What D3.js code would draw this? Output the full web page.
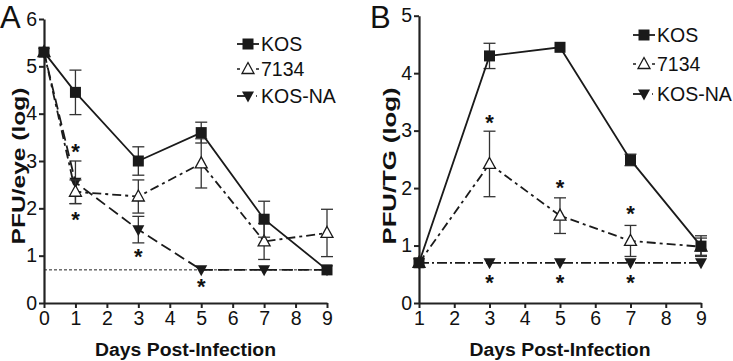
<!DOCTYPE html>
<html>
<head>
<meta charset="utf-8">
<title>PFU by day</title>
<script src="https://d3js.org/d3.v7.min.js"></script>
<style>
  body { margin: 0; background: #fff; }
  text { font-family: "Liberation Sans", Arial, sans-serif; fill: #111; }
</style>
</head>
<body>
<div id="chart"></div>
<script>
// ---- data ----
var seriesNames = ["KOS", "7134", "KOS-NA"];

// panel A: eye
var daysA = [0, 1, 3, 5, 7, 9];
var kosA = [5.3, 4.45, 3.0, 3.6, 1.77, 0.7];
var kosAErr = [0, 0.47, 0.3, 0.22, 0.38, 0];
var mutA = [5.3, 2.35, 2.25, 2.95, 1.3, 1.48];
var mutAErr = [0, 0.25, 0.35, 0.52, 0.38, 0.5];
var naA = [5.3, 2.55, 1.55, 0.7, 0.7, 0.7];
var naAErr = [0, 0.45, 0.28, 0, 0, 0];
var starsA = [[1, 3.3], [1, 1.86], [3, 1.08], [5, 0.45]];
var limitA = 0.7;

// panel B: TG
var daysB = [1, 3, 5, 7, 9];
var kosB = [0.7, 4.3, 4.45, 2.49, 0.99];
var kosBErr = [0, 0.22, 0, 0.1, 0.18];
var mutB = [0.7, 2.42, 1.52, 1.08, 0.98];
var mutBErr = [0, 0.57, 0.31, 0.27, 0.15];
var naB = [0.7, 0.7, 0.7, 0.7, 0.7];
var naBErr = [0, 0, 0, 0, 0];
var starsB = [[3, 3.22], [5, 2.09], [7, 1.64], [3, 0.44], [5, 0.44], [7, 0.44]];

var width = 733, height = 361;
var svg = d3.select("#chart").append("svg")
    .attr("width", width).attr("height", height);

function drawPanel(cfg) {
    var g = svg.append("g");
    var x = d3.scaleLinear().domain(cfg.xDomain).range(cfg.xRange);
    var y = d3.scaleLinear().domain(cfg.yDomain).range(cfg.yRange);

    // axes
    var xa = g.append("g").attr("transform", "translate(0," + cfg.yRange[0] + ")")
        .call(d3.axisBottom(x).tickValues(d3.range(cfg.xDomain[0], cfg.xDomain[1] + 1))
            .tickSize(5).tickSizeOuter(0).tickPadding(3).tickFormat(d3.format("d")));
    var ya = g.append("g").attr("transform", "translate(" + cfg.xRange[0] + ",0)")
        .call(d3.axisLeft(y).ticks(cfg.yDomain[1]).tickSize(5).tickSizeOuter(0)
            .tickPadding(2).tickFormat(d3.format("d")));
    [xa, ya].forEach(function(a) {
        a.select(".domain").attr("stroke", "#222").attr("stroke-width", 2.2);
        a.selectAll(".tick line").attr("stroke", "#222").attr("stroke-width", 2);
        a.selectAll(".tick text").style("font-size", "19.5px").attr("fill", "#111")
            .style("font-family", "'Liberation Sans', Arial, sans-serif");
    });

    // limit of detection line
    if (cfg.limit != null) {
        g.append("line")
            .attr("x1", x(cfg.xDomain[0])).attr("x2", x(cfg.xDomain[1]))
            .attr("y1", y(cfg.limit)).attr("y2", y(cfg.limit))
            .attr("stroke", "#222").attr("stroke-width", 1).attr("stroke-dasharray", "3,2");
    }

    // series: draw back to front (KOS-NA first, KOS last)
    cfg.series.slice().reverse().forEach(function(s) {
        var pts = cfg.days.map(function(d, i) { return {d: d, v: s.values[i], e: s.err[i]}; });
        // error bars
        pts.forEach(function(p) {
            if (!p.e) return;
            var cx = x(p.d), hw = 6;
            var lo = y(p.v - p.e), hi = y(p.v + p.e);
            g.append("line").attr("x1", cx).attr("x2", cx).attr("y1", lo).attr("y2", hi)
                .attr("stroke", "#333").attr("stroke-width", 1.3);
            [lo, hi].forEach(function(yy) {
                g.append("line").attr("x1", cx - hw).attr("x2", cx + hw).attr("y1", yy).attr("y2", yy)
                    .attr("stroke", "#333").attr("stroke-width", 1.3);
            });
        });
        var line = d3.line().x(function(p) { return x(p.d); }).y(function(p) { return y(p.v); });
        g.append("path").datum(pts).attr("d", line)
            .attr("fill", "none").attr("stroke", "#1a1a1a").attr("stroke-width", 1.8)
            .attr("stroke-dasharray", s.dash);
        pts.forEach(function(p) {
            drawMarker(g, s.marker, x(p.d), y(p.v));
        });
    });

    // significance stars
    cfg.stars.forEach(function(st) {
        g.append("text").attr("x", x(st[0])).attr("y", y(st[1]) + 12.5)
            .attr("text-anchor", "middle").style("font-size", "22px").style("font-weight", "bold")
            .text("*");
    });

    // legend
    cfg.series.forEach(function(s, i) {
        var ly = cfg.legendY[i], lx = cfg.legendX;
        drawLegendLine(g, s, lx, ly);
        drawMarker(g, s.marker, lx + 11, ly);
        g.append("text").attr("x", lx + 24).attr("y", ly + 7)
            .style("font-size", "19.5px").text(s.name);
    });

    // axis titles
    g.append("text").attr("x", (cfg.xRange[0] + cfg.xRange[1]) / 2).attr("y", 356)
        .attr("text-anchor", "middle").style("font-size", "18px").style("font-weight", "bold")
        .attr("textLength", 181).attr("lengthAdjust", "spacingAndGlyphs")
        .text("Days Post-Infection");
    g.append("text").attr("transform", "translate(" + cfg.yLabelX + ",166) rotate(-90)")
        .attr("text-anchor", "middle").style("font-size", "18px").style("font-weight", "bold")
        .attr("textLength", 157).attr("lengthAdjust", "spacingAndGlyphs")
        .text(cfg.yLabel);
    g.append("text").attr("x", cfg.letterX).attr("y", 28)
        .style("font-size", "31px").text(cfg.letter);
}

function drawLegendLine(g, s, lx, ly) {
    if (s.marker === "square") {
        g.append("line").attr("x1", lx).attr("x2", lx + 22).attr("y1", ly).attr("y2", ly)
            .attr("stroke", "#1a1a1a").attr("stroke-width", 1.8);
    } else if (s.marker === "tri") {
        g.append("line").attr("x1", lx).attr("x2", lx + 3).attr("y1", ly).attr("y2", ly)
            .attr("stroke", "#1a1a1a").attr("stroke-width", 1.5);
        g.append("line").attr("x1", lx + 19).attr("x2", lx + 22).attr("y1", ly).attr("y2", ly)
            .attr("stroke", "#1a1a1a").attr("stroke-width", 1.5);
    } else {
        g.append("line").attr("x1", lx).attr("x2", lx + 8).attr("y1", ly).attr("y2", ly)
            .attr("stroke", "#1a1a1a").attr("stroke-width", 1.8);
        g.append("line").attr("x1", lx + 19).attr("x2", lx + 20).attr("y1", ly).attr("y2", ly)
            .attr("stroke", "#1a1a1a").attr("stroke-width", 1.5);
    }
}

function drawMarker(g, type, cx, cy) {
    if (type === "square") {
        g.append("rect").attr("x", cx - 5.5).attr("y", cy - 5.5).attr("width", 11).attr("height", 11)
            .attr("fill", "#1a1a1a");
    } else if (type === "tri") {
        g.append("path").attr("transform", "translate(" + cx + "," + cy + ")")
            .attr("d", "M0,-6.5L6,4.5L-6,4.5Z")
            .attr("fill", "#fff").attr("stroke", "#1a1a1a").attr("stroke-width", 1.3);
    } else {
        g.append("path").attr("transform", "translate(" + cx + "," + cy + ")")
            .attr("d", "M-6,-4.5L6,-4.5L0,6.5Z")
            .attr("fill", "#1a1a1a");
    }
}

drawPanel({
    letter: "A", letterX: 0,
    xDomain: [0, 9], xRange: [44, 327],
    yDomain: [0, 6], yRange: [303, 19],
    days: daysA, limit: limitA,
    yLabel: "PFU/eye (log)", yLabelX: 25,
    legendX: 237, legendY: [44, 69, 96],
    stars: starsA,
    series: [
        {name: seriesNames[0], values: kosA, err: kosAErr, marker: "square", dash: null},
        {name: seriesNames[1], values: mutA, err: mutAErr, marker: "tri", dash: "9,4,3,4"},
        {name: seriesNames[2], values: naA, err: naAErr, marker: "tridown", dash: "11,5"}
    ]
});

drawPanel({
    letter: "B", letterX: 370,
    xDomain: [1, 9], xRange: [419, 701],
    yDomain: [0, 5], yRange: [303, 15.7],
    days: daysB, limit: null,
    yLabel: "PFU/TG (log)", yLabelX: 396,
    legendX: 633, legendY: [35, 64, 94],
    stars: starsB,
    series: [
        {name: seriesNames[0], values: kosB, err: kosBErr, marker: "square", dash: null},
        {name: seriesNames[1], values: mutB, err: mutBErr, marker: "tri", dash: "9,4,3,4"},
        {name: seriesNames[2], values: naB, err: naBErr, marker: "tridown", dash: "10,3,2,3"}
    ]
});
</script>
</body>
</html>
